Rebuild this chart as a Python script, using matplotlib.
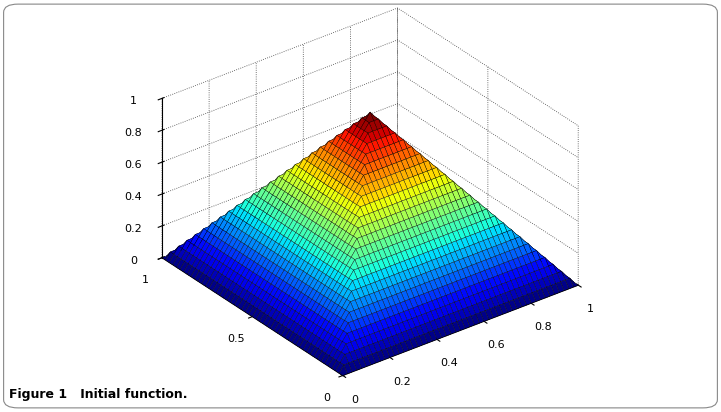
import numpy as np
import matplotlib
matplotlib.use("Agg")
import matplotlib.pyplot as plt
from matplotlib.patches import FancyBboxPatch

n = 51
x_vals = np.linspace(0, 1, n)
y_vals = np.linspace(0, 1, n)
X, Y = np.meshgrid(x_vals, y_vals)
Z = 2 * np.minimum(np.minimum(X, 1 - X), np.minimum(Y, 1 - Y))

xticks = [0, 0.2, 0.4, 0.6, 0.8, 1]
yticks = [0, 0.5, 1]
zticks = [0, 0.2, 0.4, 0.6, 0.8, 1]

fig = plt.figure(figsize=(7.21, 4.12), dpi=100)
fig.patches.append(FancyBboxPatch((0.005, 0.01), 0.99, 0.98, boxstyle="round,pad=0,rounding_size=0.02",
                                  transform=fig.transFigure, fill=False, ec="#888888", lw=0.8))
ax = fig.add_axes([0.02, -0.02, 0.97, 1.08], projection="3d", proj_type="ortho")
ax.plot_surface(X, Y, Z, cmap="jet", edgecolor="black", linewidth=0.25, rstride=1, cstride=1,
                antialiased=True, shade=False)
ax.view_init(elev=30, azim=-127.5)
ax.set_xlim(0, 1); ax.set_ylim(0, 1); ax.set_zlim(0, 1)
ax.set_xticks(xticks); ax.set_yticks(yticks); ax.set_zticks(zticks)
ax.set_xticklabels([f"{v:g}" for v in xticks], fontsize=8)
ax.set_yticklabels([f"{v:g}" for v in yticks], fontsize=8)
ax.set_zticklabels([f"{v:g}" for v in zticks], fontsize=8)
for a in (ax.xaxis, ax.yaxis, ax.zaxis):
    a.set_pane_color((1, 1, 1, 0))
    a.pane.set_edgecolor("black")
    a._axinfo["grid"].update(color="#444444", linestyle=":", linewidth=0.6)
ax.set_box_aspect((1, 1, 0.62))
fig.text(0.012, 0.035, "Figure 1   Initial function.", fontsize=9, fontweight="bold", family="DejaVu Sans")
fig.savefig("out.png", dpi=100)
